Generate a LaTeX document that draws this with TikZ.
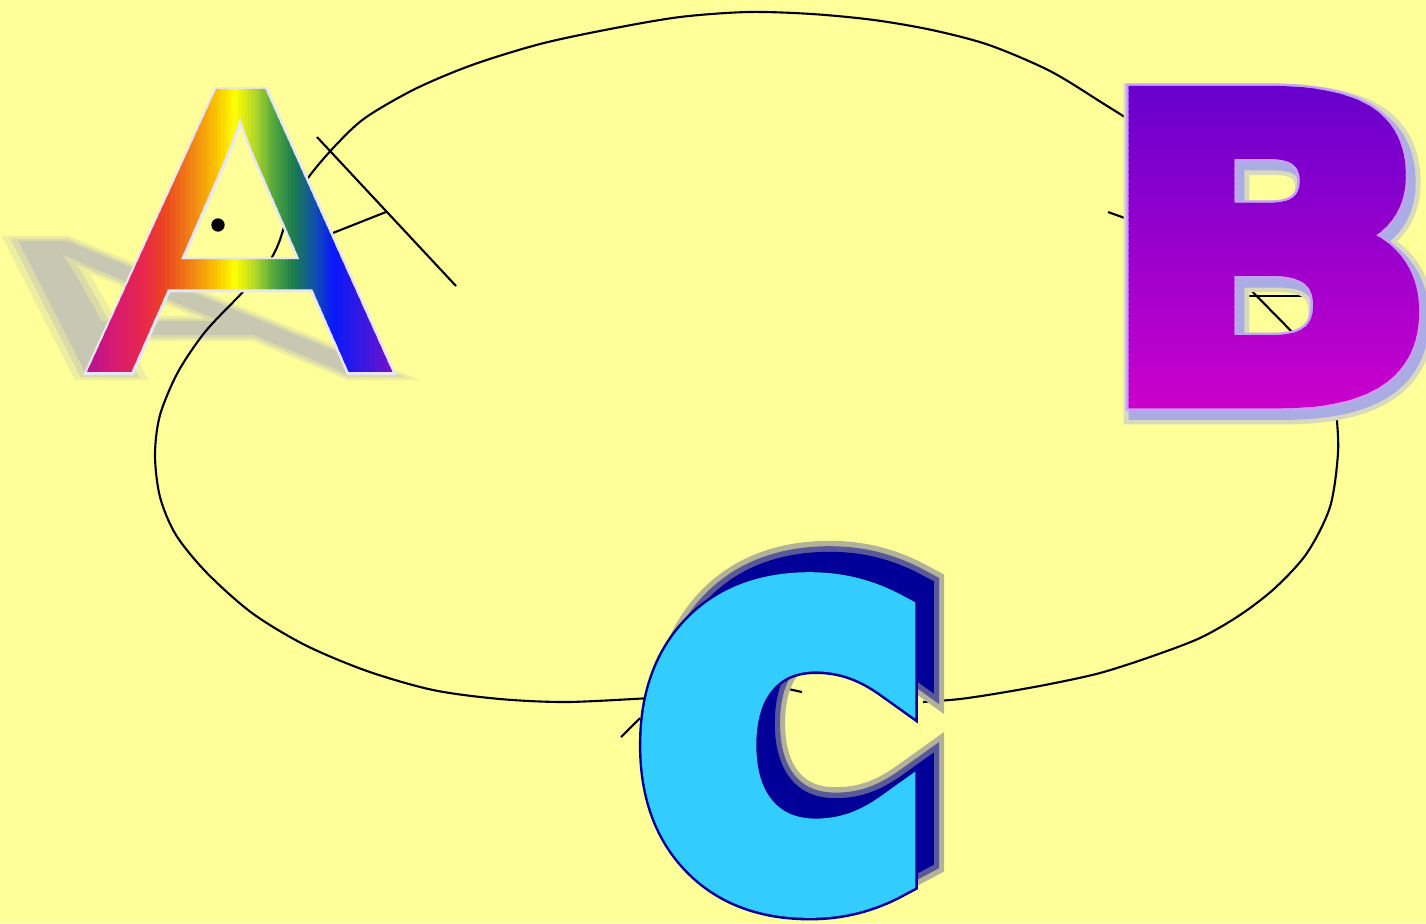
\documentclass[tikz,border=0pt]{standalone}
\usepackage{fontspec}

\definecolor{paper}{RGB}{255,255,153}
\definecolor{rimA}{RGB}{232,230,242}
\definecolor{shadowA}{RGB}{200,200,178}
\definecolor{rimB}{RGB}{200,160,250}
\definecolor{glowB}{RGB}{170,172,228}
\definecolor{topB}{RGB}{102,0,204}
\definecolor{bottomB}{RGB}{204,0,204}
\definecolor{cyanC}{RGB}{51,204,255}
\definecolor{navyC}{RGB}{0,0,153}

\definecolor{rA1}{RGB}{176,16,156}
\definecolor{rA2}{RGB}{216,26,112}
\definecolor{rA3}{RGB}{232,40,74}
\definecolor{rA4}{RGB}{235,70,30}
\definecolor{rA5}{RGB}{242,140,20}
\definecolor{rA6}{RGB}{250,190,0}
\definecolor{rA7}{RGB}{255,255,0}
\definecolor{rA8}{RGB}{180,216,40}
\definecolor{rA9}{RGB}{80,166,64}
\definecolor{rA10}{RGB}{26,122,80}
\definecolor{rA11}{RGB}{16,80,176}
\definecolor{rA12}{RGB}{8,24,250}
\definecolor{rA13}{RGB}{58,24,224}
\definecolor{rA14}{RGB}{122,16,200}

\newfontfamily\fontA{Liberation Sans}
\newfontfamily\fontArim{Liberation Sans}[FakeBold=1.2]
\newfontfamily\fontAblura{Liberation Sans}[FakeBold=2.9]
\newfontfamily\fontAblurb{Liberation Sans}[FakeBold=5.8]
\newfontfamily\fontB{DejaVu Sans Bold}[FakeBold=4.8]
\newfontfamily\fontBrim{DejaVu Sans Bold}[FakeBold=6.0]
\newfontfamily\fontBglowa{DejaVu Sans Bold}[FakeBold=7.0]
\newfontfamily\fontBglowb{DejaVu Sans Bold}[FakeBold=9.2]
\newfontfamily\fontC{DejaVu Sans Bold}[FakeBold=11.3]
\newfontfamily\fontCrim{DejaVu Sans Bold}[FakeBold=12.6]
\newfontfamily\fontCsha{DejaVu Sans Bold}[FakeBold=10.5]
\newfontfamily\fontCshb{DejaVu Sans Bold}[FakeBold=13.3]
\newfontfamily\fontCshc{DejaVu Sans Bold}[FakeBold=16.0]

\newcommand\glyphA{\scalebox{1.12}[1]{A}}
\newcommand\glyphB{\scalebox{1.08}[1]{B}}
\newcommand\glyphC{\scalebox{0.94}[1]{C}}

\tikzset{
  letterA/.style={inner sep=6pt, font=#1\fontsize{117pt}{117pt}\selectfont},
  letterB/.style={inner sep=6pt, font=#1\fontsize{118pt}{118pt}\selectfont},
  letterC/.style={inner sep=6pt, font=#1\fontsize{113pt}{113pt}\selectfont},
}

\begin{document}
\begin{tikzpicture}[x=0.01cm,y=-0.01cm,line width=0.6pt]
\useasboundingbox (0,0) rectangle (1426,923);
\fill[paper] (0,0) rectangle (1426,923);

\begin{scope}[shift={(240,375)}, xslant=-1.48, yscale=0.47]
  \node[letterA=\fontAblurb, inner sep=0pt, anchor=south, transform shape, text=shadowA!30!paper] at (0,0) {\glyphA};
  \node[letterA=\fontAblura, inner sep=0pt, anchor=south, transform shape, text=shadowA!65!paper] at (0,0) {\glyphA};
  \node[letterA=\fontA, inner sep=0pt, anchor=south, transform shape, text=shadowA] at (0,0) {\glyphA};
\end{scope}

\draw plot[smooth] coordinates {(650,698) (567,702) (500,699) (433,690) (367,671)
  (305,645) (252,613) (207,573) (176,535) (160,497) (155,455) (160,415) (178,372)
  (205,332) (240,295) (265,268) (278,245) (290,210) (308,178) (335,146) (365,118)
  (415,89) (472,65) (540,44) (610,29) (680,17) (748,12) (812,14) (874,20) (932,30)
  (989,45) (1050,71) (1104,104) (1160,140) (1220,185) (1275,245) (1312,305)
  (1330,365) (1336,410) (1338,453) (1330,507) (1307,553) (1275,588) (1240,615)
  (1200,638) (1150,657) (1100,673) (1050,684) (1000,693) (960,699) (923,702)};

\draw (317,137) -- (456,286);
\draw (386,212) -- (305,244);
\draw (1108,212) -- (1150,227);
\draw (1232,296) -- (1305,296);
\draw (1238,277) -- (1302,342);
\draw (621,737) -- (640,718);
\draw (770,685) -- (802,692);
\draw (770,673) -- (802,663);

\node[letterA=\fontArim, text=rimA] (A) at (240,231) {\glyphA};
\foreach \xa/\xb/\ca/\cb in {70/83/rA1/rA1, 83/115/rA1/rA2, 115/145/rA2/rA3, 145/165/rA3/rA4,
    165/195/rA4/rA5, 195/215/rA5/rA6, 215/235/rA6/rA7, 235/255/rA7/rA8, 255/275/rA8/rA9,
    275/295/rA9/rA10, 295/315/rA10/rA11, 315/333/rA11/rA12, 333/365/rA12/rA13,
    365/395/rA13/rA14, 395/412/rA14/rA14}{
  \foreach \j in {0,...,5}{
    \pgfmathsetmacro\pa{\xa+(\xb-\xa)*\j/6}
    \pgfmathsetmacro\pb{\xa+(\xb-\xa)*(\j+1)/6+1}
    \pgfmathsetmacro\mix{100*(\j+0.5)/6}
    \begin{scope}
      \clip (\pa,80) rectangle (\pb,385);
      \node[letterA=\fontA, text=\cb!\mix!\ca] at (A) {\glyphA};
    \end{scope}
  }
}
\fill (218,225) circle (1.9pt);

\node[letterB=\fontBglowb, text=glowB!45!paper] at (1274,254) {\glyphB};
\node[letterB=\fontBglowa, text=glowB] at (1274,254) {\glyphB};
\node[letterB=\fontBrim, text=rimB] (B) at (1269,247) {\glyphB};
\foreach \j in {0,...,57}{
  \pgfmathsetmacro\ya{75+6*\j}
  \pgfmathsetmacro\yb{\ya+7}
  \pgfmathsetmacro\mix{max(0,min(100,(\ya-79)/3.3))}
  \begin{scope}
    \clip (1100,\ya) rectangle (1426,\yb);
    \node[letterB=\fontB, text=bottomB!\mix!topB] at (B) {\glyphB};
  \end{scope}
}

\node[letterC=\fontCshc, text=navyC!30!paper] at (801,723) {\glyphC};
\node[letterC=\fontCshb, text=navyC!65!paper] at (801,723) {\glyphC};
\node[letterC=\fontCsha, text=navyC] at (801,723) {\glyphC};
\node[letterC=\fontCrim, text=navyC] (C) at (781,745) {\glyphC};
\node[letterC=\fontC, text=cyanC] at (C) {\glyphC};
\end{tikzpicture}
\end{document}
